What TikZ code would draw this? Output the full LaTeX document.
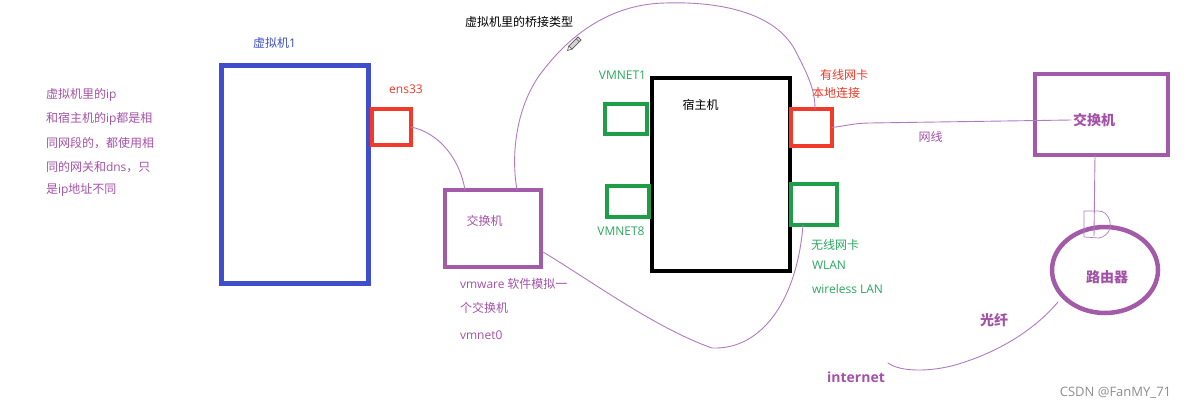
\documentclass[tikz,border=0pt]{standalone}
\usepackage{fontspec}
\setmainfont{Noto Sans CJK SC}
\newfontfamily\latf{Open Sans}
\usetikzlibrary{calc,shapes.geometric}
\definecolor{vmblue}{HTML}{3F4FCC}
\definecolor{txtpurple}{HTML}{A452A8}
\definecolor{boxpurple}{HTML}{A35AA8}
\definecolor{wirepurple}{HTML}{B17BC2}
\definecolor{nicred}{HTML}{F23A2A}
\definecolor{nicgreen}{HTML}{1E9E48}
\definecolor{lblgreen}{HTML}{2BA860}
\definecolor{wmgray}{HTML}{8E8E8E}
\newcommand{\lt}[1]{{\latf #1}}
\begin{document}
\begin{tikzpicture}[x=1pt,y=-1pt,
  box/.style={draw, rectangle, inner sep=0pt, outer sep=0pt, line width=4.5pt},
  lbl/.style={inner sep=0pt, outer sep=0pt, font=\fontsize{12}{14}\selectfont},
  blbl/.style={inner sep=0pt, outer sep=0pt, font=\fontsize{14}{16}\selectfont\bfseries, text=txtpurple},
  wire/.style={draw=wirepurple, line width=0.9pt, line cap=round, line join=round}]
\useasboundingbox[fill=white] (0,0) rectangle (1188,410);

% boxes
\node[box, draw=vmblue, minimum width=147pt, minimum height=218pt] (vm) at (295,174.5) {};
\node[box, draw=nicred, minimum width=39pt, minimum height=36pt] (ens) at (391.5,127) {};
\node[box, draw=boxpurple, minimum width=96pt, minimum height=77pt] (sw1) at (493,228.5) {};
\node[box, draw=black, minimum width=138pt, minimum height=193pt] (host) at (721,174.5) {};
\node[box, draw=nicgreen, minimum width=42pt, minimum height=30pt] (vmnet1) at (626,119) {};
\node[box, draw=nicgreen, minimum width=42pt, minimum height=31pt] (vmnet8) at (628,201.5) {};
\node[box, draw=nicred, minimum width=41pt, minimum height=37pt] (wired) at (811.5,127.5) {};
\node[box, draw=nicgreen, minimum width=46pt, minimum height=41pt] (wlan) at (814,204.5) {};
\node[box, draw=boxpurple, minimum width=133pt, minimum height=81pt] (sw2) at (1101.5,114.5) {};
\node[draw=boxpurple, ellipse, line width=4.5pt, inner sep=0pt, outer sep=0pt, minimum width=106pt, minimum height=86pt] (router) at (1105,270) {};

% labels
\node[lbl, text=vmblue] (vmlbl) at (274.5,43) {虚拟机\lt{1}};
\node[lbl, text=txtpurple, anchor=west] (n1) at (46,95) {虚拟机里的\lt{ip}};
\node[lbl, text=txtpurple, anchor=west] (n2) at (46,119) {和宿主机的\lt{ip}都是相};
\node[lbl, text=txtpurple, anchor=west] (n3) at (46,143) {同网段的，都使用相};
\node[lbl, text=txtpurple, anchor=west] (n4) at (46,167) {同的网关和\lt{dns}，只};
\node[lbl, text=txtpurple, anchor=west] (n5) at (46,190) {是\lt{ip}地址不同};
\node[lbl, text=nicred, font=\fontsize{12}{14}\selectfont\latf] (enslbl) at (406,89) {ens33};
\node[lbl, text=black] (title) at (519,22) {虚拟机里的桥接类型};
\node[lbl, text=lblgreen, font=\fontsize{12}{14}\selectfont\latf] (vm1lbl) at (622.5,75) {VMNET1};
\node[lbl, text=black] (hostlbl) at (700.5,105) {宿主机};
\node[lbl, text=lblgreen, font=\fontsize{12}{14}\selectfont\latf] (vm8lbl) at (621,231) {VMNET8};
\node[lbl, text=txtpurple] (sw1lbl) at (484.5,221) {交换机};
\node[lbl, text=txtpurple, anchor=west] (v1) at (460,284) {\lt{vmware} 软件模拟一};
\node[lbl, text=txtpurple, anchor=west] (v2) at (460,308) {个交换机};
\node[lbl, text=txtpurple, anchor=west, font=\fontsize{12}{14}\selectfont\latf] (v3) at (460,335) {vmnet0};
\node[lbl, text=nicred, anchor=west] (w1) at (820,75) {有线网卡};
\node[lbl, text=nicred, anchor=west] (w2) at (812,93) {本地连接};
\node[lbl, text=txtpurple] (cable) at (930.5,137) {网线};
\node[blbl] (sw2lbl) at (1094,120) {交换机};
\node[lbl, text=lblgreen, anchor=west] (g1) at (811,245) {无线网卡};
\node[lbl, text=lblgreen, anchor=west, font=\fontsize{12}{14}\selectfont\latf] (g2) at (812,265) {WLAN};
\node[lbl, text=lblgreen, anchor=west, font=\fontsize{12}{14}\selectfont\latf] (g3) at (812,289) {wireless LAN};
\node[blbl] (routerlbl) at (1107,277) {路由器};
\node[blbl] (fiber) at (994,320) {光纤};
\node[blbl, font=\fontsize{14}{16}\selectfont\latf\bfseries] (inet) at (856,377) {internet};
\node[lbl, text=wmgray, font=\fontsize{13}{15}\selectfont\latf] (csdn) at (1115.5,393) {CSDN @FanMY\_71};

% connectors
\draw[wire] (ens.east) .. controls (440,133) and (460,160) .. ($(sw1.north)+(-28,0)$);
\draw[wire] ($(sw1.north)+(24,0)$) .. controls (510,150) and (518,100) .. (545,68)
  .. controls (575,30) and (615,4) .. (665,3)
  .. controls (725,1) and (778,15) .. (796,52)
  .. controls (808,75) and (815,90) .. ($(wired.north)+(3.5,0)$);
\draw[wire] ($(sw1.east)+(2,23.5)$) .. controls (590,280) and (655,328) .. (712,348)
  .. controls (762,350) and (797,300) .. ($(wlan.south)+(-11,0)$);
\coordinate (sw2in) at ($(sw2lbl.west)+(-2,0)$);
\draw[wire] (wired.east) .. controls (845,126) and (855,123) .. (870,123) -- (sw2in);
\coordinate (rtop) at (1094,236);
\draw[wire] ($(sw2.south)+(-6.5,0)$) -- (rtop);
\draw[wire, line width=0.7pt] (1084,211) -- (1084,237) -- (1099,238) .. controls (1108,236) and (1112,228) .. (1110,222) .. controls (1108,214) and (1104,211) .. (1098,211) -- cycle;
\draw[wire] ($(router.center)+(-47,32)$) .. controls (1030,335) and (990,355) .. (955,365)
  .. controls (930,372) and (900,372) .. (888,363);

% pencil icon
\begin{scope}[shift={(576,42)}, rotate=45]
  \draw[fill=gray!35, draw=gray!70!black, line width=0.6pt] (-8,-2.2) -- (5,-2.2) -- (5,2.2) -- (-8,2.2) -- cycle;
  \draw[fill=white, draw=gray!70!black, line width=0.6pt] (-8,-2.2) -- (-12,0) -- (-8,2.2) -- cycle;
  \draw[draw=gray!70!black, line width=0.6pt] (2.5,-2.2) -- (2.5,2.2);
\end{scope}
\end{tikzpicture}
\end{document}
